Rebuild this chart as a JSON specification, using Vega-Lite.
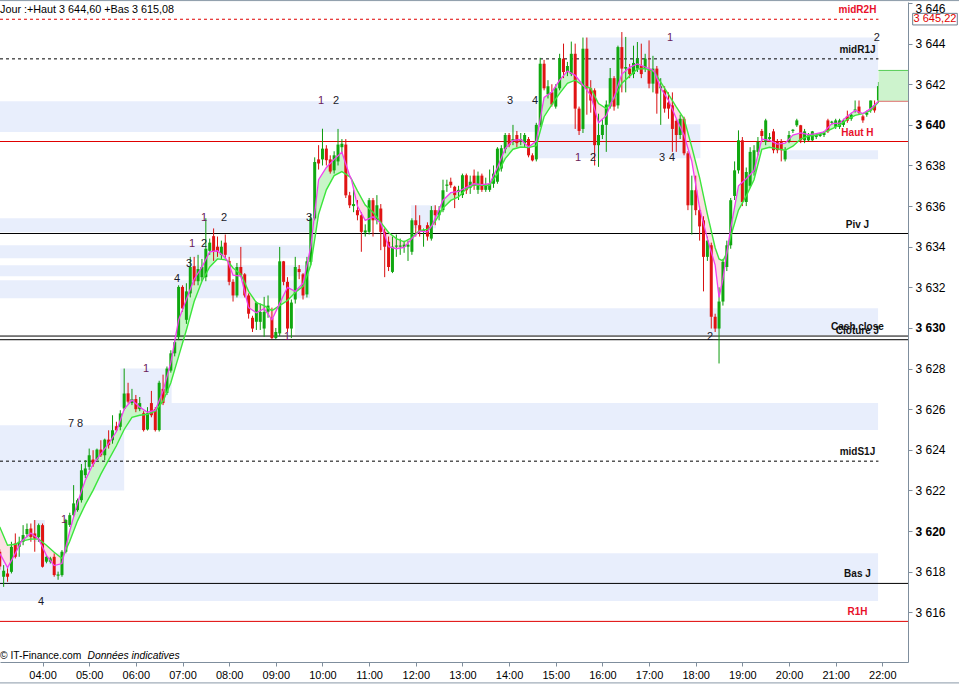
{
"$schema":"https://vega.github.io/schema/vega-lite/v6.json",
"width":908,"height":660,
"autosize":{"type":"none"},
"padding":{"left":0,"top":2,"right":51,"bottom":22},
"background":"white",
"config":{"view":{"stroke":null},"font":"Liberation Sans","scale":{"continuousPadding":0}},
"datasets":{
"one":[{"k":1}],
"bands":[
{"start":937.6,"end":1314.5,"lo":3641.8,"hi":3644.3},
{"start":185.3,"end":876,"lo":3639.65,"hi":3641.16},
{"start":876,"end":1086,"lo":3638.35,"hi":3640.03},
{"start":1192,"end":1314.5,"lo":3638.31,"hi":3638.75},
{"start":185.3,"end":584,"lo":3634.71,"hi":3635.4},
{"start":185.3,"end":584,"lo":3633.43,"hi":3634.07},
{"start":185.3,"end":584,"lo":3632.55,"hi":3633.09},
{"start":185.3,"end":584,"lo":3631.46,"hi":3632.35},
{"start":714,"end":746,"lo":3634.91,"hi":3636.04},
{"start":564.6,"end":1314.5,"lo":3629.64,"hi":3630.97},
{"start":340,"end":406,"lo":3626.1,"hi":3628.0},
{"start":345,"end":1314.5,"lo":3624.97,"hi":3626.3},
{"start":185.3,"end":345,"lo":3622.0,"hi":3625.21},
{"start":228,"end":243,"lo":3619.46,"hi":3620.54},
{"start":185.3,"end":1314.5,"lo":3616.55,"hi":3618.91}
],
"levels":[
{"name":"midR2H","v":3645.2,"src":"H","mid":true},
{"name":"midR1J","v":3643.25,"src":"J","mid":true},
{"name":"Haut H","v":3639.18,"src":"H","mid":false},
{"name":"Piv J","v":3634.65,"src":"J","mid":false},
{"name":"Cash close","v":3629.6,"src":"J","mid":false},
{"name":"Clôture J","v":3629.42,"src":"J","mid":false},
{"name":"midS1J","v":3623.44,"src":"J","mid":true},
{"name":"Bas J","v":3617.42,"src":"J","mid":false},
{"name":"R1H","v":3615.55,"src":"H","mid":false}
],
"nums":[
{"t":238.1,"p":3616.5,"n":"4"},{"t":267.6,"p":3620.54,"n":"1"},{"t":276.6,"p":3625.26,"n":"7"},{"t":288.2,"p":3625.26,"n":"8"},
{"t":373.1,"p":3627.97,"n":"1"},{"t":413.0,"p":3632.4,"n":"4"},{"t":428.4,"p":3633.14,"n":"3"},{"t":432.2,"p":3634.12,"n":"1"},
{"t":447.7,"p":3634.12,"n":"2"},{"t":447.7,"p":3635.4,"n":"1"},{"t":473.4,"p":3635.4,"n":"2"},{"t":582.7,"p":3635.4,"n":"3"},
{"t":598.1,"p":3641.16,"n":"1"},{"t":617.4,"p":3641.16,"n":"2"},{"t":554.4,"p":3629.54,"n":"1"},{"t":841.1,"p":3641.16,"n":"3"},
{"t":873.3,"p":3641.16,"n":"4"},{"t":928.6,"p":3638.35,"n":"1"},{"t":947.9,"p":3638.35,"n":"2"},{"t":1036.6,"p":3638.35,"n":"3"},
{"t":1049.5,"p":3638.35,"n":"4"},{"t":1047,"p":3644.26,"n":"1"},{"t":1098.3,"p":3629.54,"n":"2"},{"t":1313,"p":3644.26,"n":"2"}
],
"ma":[
{"t":185,"p":3618.9,"g":3620.2,"s":1,"d":"dn"},{"t":195,"p":3618.2,"g":3619.3,"s":1,"d":"dn"},{"t":205,"p":3618.9,"g":3619.35,"s":1,"d":"dn"},{"t":213,"p":3619.5,"g":3619.5,"s":1,"d":"dn"},
{"t":213,"p":3619.5,"g":3619.5,"s":2,"d":"up"},{"t":225,"p":3619.9,"g":3619.6,"s":2,"d":"up"},{"t":235,"p":3619.6,"g":3619.6,"s":2,"d":"up"},
{"t":235,"p":3619.6,"g":3619.6,"s":3,"d":"dn"},{"t":245,"p":3618.8,"g":3619.3,"s":3,"d":"dn"},{"t":255,"p":3618.3,"g":3618.95,"s":3,"d":"dn"},{"t":265,"p":3618.4,"g":3618.65,"s":3,"d":"dn"},{"t":268,"p":3618.9,"g":3618.9,"s":3,"d":"dn"},
{"t":268,"p":3618.9,"g":3618.9,"s":4,"d":"up"},{"t":275,"p":3620.0,"g":3619.5,"s":4,"d":"up"},{"t":285,"p":3621.4,"g":3620.5,"s":4,"d":"up"},{"t":295,"p":3622.5,"g":3621.3,"s":4,"d":"up"},{"t":305,"p":3623.3,"g":3622.0,"s":4,"d":"up"},{"t":315,"p":3623.8,"g":3622.8,"s":4,"d":"up"},{"t":325,"p":3624.3,"g":3623.5,"s":4,"d":"up"},{"t":335,"p":3624.9,"g":3624.2,"s":4,"d":"up"},{"t":345,"p":3626.0,"g":3625.0,"s":4,"d":"up"},{"t":355,"p":3626.45,"g":3625.6,"s":4,"d":"up"},{"t":365,"p":3626.1,"g":3625.7,"s":4,"d":"up"},{"t":375,"p":3625.85,"g":3625.75,"s":4,"d":"up"},{"t":385,"p":3625.95,"g":3625.9,"s":4,"d":"up"},{"t":395,"p":3626.9,"g":3626.4,"s":4,"d":"up"},{"t":405,"p":3628.3,"g":3627.3,"s":4,"d":"up"},{"t":415,"p":3630.4,"g":3628.6,"s":4,"d":"up"},{"t":425,"p":3631.4,"g":3629.9,"s":4,"d":"up"},{"t":435,"p":3632.4,"g":3631.3,"s":4,"d":"up"},{"t":445,"p":3633.0,"g":3632.3,"s":4,"d":"up"},{"t":455,"p":3633.75,"g":3633.0,"s":4,"d":"up"},{"t":465,"p":3633.8,"g":3633.4,"s":4,"d":"up"},{"t":475,"p":3633.45,"g":3633.35,"s":4,"d":"up"},{"t":478,"p":3633.3,"g":3633.3,"s":4,"d":"up"},
{"t":478,"p":3633.3,"g":3633.3,"s":5,"d":"dn"},{"t":485,"p":3632.6,"g":3632.95,"s":5,"d":"dn"},{"t":495,"p":3632.55,"g":3632.65,"s":5,"d":"dn"},{"t":505,"p":3631.0,"g":3631.8,"s":5,"d":"dn"},{"t":515,"p":3630.75,"g":3631.25,"s":5,"d":"dn"},{"t":525,"p":3630.95,"g":3631.1,"s":5,"d":"dn"},{"t":535,"p":3630.4,"g":3630.85,"s":5,"d":"dn"},{"t":543,"p":3631.05,"g":3631.05,"s":5,"d":"dn"},
{"t":543,"p":3631.05,"g":3631.05,"s":6,"d":"up"},{"t":555,"p":3632.0,"g":3631.35,"s":6,"d":"up"},{"t":565,"p":3631.8,"g":3631.75,"s":6,"d":"up"},{"t":575,"p":3632.2,"g":3632.05,"s":6,"d":"up"},{"t":585,"p":3634.0,"g":3633.1,"s":6,"d":"up"},{"t":595,"p":3637.3,"g":3635.6,"s":6,"d":"up"},{"t":605,"p":3637.9,"g":3636.8,"s":6,"d":"up"},{"t":615,"p":3638.3,"g":3637.5,"s":6,"d":"up"},{"t":625,"p":3638.65,"g":3637.7,"s":6,"d":"up"},{"t":635,"p":3637.5,"g":3637.45,"s":6,"d":"up"},{"t":637,"p":3637.35,"g":3637.35,"s":6,"d":"up"},
{"t":637,"p":3637.35,"g":3637.35,"s":7,"d":"dn"},{"t":645,"p":3636.0,"g":3636.75,"s":7,"d":"dn"},{"t":655,"p":3635.3,"g":3636.05,"s":7,"d":"dn"},{"t":665,"p":3635.47,"g":3635.7,"s":7,"d":"dn"},{"t":675,"p":3635.15,"g":3635.2,"s":7,"d":"dn"},{"t":685,"p":3634.0,"g":3634.7,"s":7,"d":"dn"},{"t":695,"p":3633.9,"g":3634.4,"s":7,"d":"dn"},{"t":705,"p":3633.97,"g":3634.24,"s":7,"d":"dn"},{"t":715,"p":3634.4,"g":3634.45,"s":7,"d":"dn"},{"t":725,"p":3634.77,"g":3634.8,"s":7,"d":"dn"},{"t":735,"p":3634.73,"g":3634.85,"s":7,"d":"dn"},{"t":741,"p":3635.05,"g":3635.05,"s":7,"d":"dn"},
{"t":741,"p":3635.05,"g":3635.05,"s":8,"d":"up"},{"t":745,"p":3635.4,"g":3635.25,"s":8,"d":"up"},{"t":755,"p":3636.29,"g":3635.9,"s":8,"d":"up"},{"t":765,"p":3636.66,"g":3636.28,"s":8,"d":"up"},{"t":775,"p":3636.72,"g":3636.45,"s":8,"d":"up"},{"t":785,"p":3636.92,"g":3636.85,"s":8,"d":"up"},{"t":795,"p":3637.1,"g":3637.05,"s":8,"d":"up"},{"t":805,"p":3637.06,"g":3637.03,"s":8,"d":"up"},{"t":815,"p":3637.1,"g":3637.03,"s":8,"d":"up"},{"t":825,"p":3637.9,"g":3637.6,"s":8,"d":"up"},{"t":835,"p":3638.83,"g":3638.34,"s":8,"d":"up"},{"t":845,"p":3639.24,"g":3638.8,"s":8,"d":"up"},{"t":855,"p":3639.28,"g":3638.91,"s":8,"d":"up"},{"t":865,"p":3638.91,"g":3638.88,"s":8,"d":"up"},{"t":875,"p":3639.2,"g":3638.98,"s":8,"d":"up"},{"t":885,"p":3641.35,"g":3640.4,"s":8,"d":"up"},{"t":895,"p":3641.62,"g":3641.0,"s":8,"d":"up"},{"t":905,"p":3642.2,"g":3641.55,"s":8,"d":"up"},{"t":915,"p":3642.65,"g":3642.05,"s":8,"d":"up"},{"t":925,"p":3642.44,"g":3642.2,"s":8,"d":"up"},{"t":935,"p":3641.95,"g":3641.93,"s":8,"d":"up"},{"t":936,"p":3641.92,"g":3641.92,"s":8,"d":"up"},
{"t":936,"p":3641.92,"g":3641.92,"s":9,"d":"dn"},{"t":945,"p":3641.45,"g":3641.8,"s":9,"d":"dn"},{"t":955,"p":3640.1,"g":3641.05,"s":9,"d":"dn"},{"t":965,"p":3640.45,"g":3640.8,"s":9,"d":"dn"},{"t":972,"p":3641.15,"g":3641.15,"s":9,"d":"dn"},
{"t":972,"p":3641.15,"g":3641.15,"s":10,"d":"up"},{"t":975,"p":3641.35,"g":3641.3,"s":10,"d":"up"},{"t":985,"p":3642.5,"g":3642.05,"s":10,"d":"up"},{"t":995,"p":3642.83,"g":3642.4,"s":10,"d":"up"},{"t":1005,"p":3643.0,"g":3642.75,"s":10,"d":"up"},{"t":1015,"p":3642.85,"g":3642.77,"s":10,"d":"up"},{"t":1025,"p":3642.69,"g":3642.65,"s":10,"d":"up"},{"t":1027,"p":3642.6,"g":3642.6,"s":10,"d":"up"},
{"t":1027,"p":3642.6,"g":3642.6,"s":11,"d":"dn"},{"t":1035,"p":3641.8,"g":3642.1,"s":11,"d":"dn"},{"t":1045,"p":3641.21,"g":3641.5,"s":11,"d":"dn"},{"t":1055,"p":3640.31,"g":3640.88,"s":11,"d":"dn"},{"t":1065,"p":3639.5,"g":3640.3,"s":11,"d":"dn"},{"t":1075,"p":3638.2,"g":3638.9,"s":11,"d":"dn"},{"t":1085,"p":3635.9,"g":3637.4,"s":11,"d":"dn"},{"t":1095,"p":3634.4,"g":3635.6,"s":11,"d":"dn"},{"t":1105,"p":3633.09,"g":3633.95,"s":11,"d":"dn"},{"t":1110,"p":3631.5,"g":3633.4,"s":11,"d":"dn"},{"t":1115,"p":3632.4,"g":3633.3,"s":11,"d":"dn"},{"t":1120,"p":3633.7,"g":3633.7,"s":11,"d":"dn"},
{"t":1120,"p":3633.7,"g":3633.7,"s":12,"d":"up"},{"t":1125,"p":3634.9,"g":3634.5,"s":12,"d":"up"},{"t":1135,"p":3637.0,"g":3635.8,"s":12,"d":"up"},{"t":1145,"p":3637.35,"g":3636.5,"s":12,"d":"up"},{"t":1155,"p":3637.75,"g":3637.3,"s":12,"d":"up"},{"t":1165,"p":3639.3,"g":3638.8,"s":12,"d":"up"},{"t":1175,"p":3639.24,"g":3638.9,"s":12,"d":"up"},{"t":1185,"p":3639.05,"g":3638.82,"s":12,"d":"up"},{"t":1195,"p":3639.1,"g":3638.75,"s":12,"d":"up"},{"t":1205,"p":3639.5,"g":3638.95,"s":12,"d":"up"},{"t":1215,"p":3639.6,"g":3639.3,"s":12,"d":"up"},{"t":1225,"p":3639.52,"g":3639.45,"s":12,"d":"up"},{"t":1235,"p":3639.57,"g":3639.5,"s":12,"d":"up"},{"t":1245,"p":3639.65,"g":3639.62,"s":12,"d":"up"},{"t":1255,"p":3640.06,"g":3639.8,"s":12,"d":"up"},{"t":1265,"p":3640.08,"g":3639.99,"s":12,"d":"up"},{"t":1275,"p":3640.43,"g":3640.27,"s":12,"d":"up"},{"t":1285,"p":3640.71,"g":3640.47,"s":12,"d":"up"},{"t":1295,"p":3640.56,"g":3640.55,"s":12,"d":"up"},{"t":1305,"p":3640.8,"g":3640.7,"s":12,"d":"up"},{"t":1315,"p":3641.16,"g":3641.12,"s":12,"d":"up"}
],
"candles":[
{"t":185,"o":3618.98,"h":3619.1,"l":3618.1,"c":3618.25},{"t":190,"o":3617.75,"h":3618.32,"l":3617.25,"c":3618.04},{"t":195,"o":3617.91,"h":3618.24,"l":3617.5,"c":3617.75},{"t":200,"o":3617.99,"h":3619.47,"l":3617.91,"c":3619.22},{"t":205,"o":3619.39,"h":3619.88,"l":3618.65,"c":3618.73},{"t":210,"o":3619.22,"h":3619.72,"l":3618.73,"c":3619.47},{"t":215,"o":3619.47,"h":3620.29,"l":3619.3,"c":3619.8},{"t":220,"o":3619.85,"h":3620.37,"l":3619.7,"c":3620.1},{"t":225,"o":3620.12,"h":3620.37,"l":3619.47,"c":3619.7},{"t":230,"o":3619.88,"h":3620.54,"l":3618.98,"c":3619.63},
{"t":235,"o":3619.7,"h":3620.37,"l":3619.47,"c":3620.29},{"t":240,"o":3620.29,"h":3620.37,"l":3618.2,"c":3618.24},{"t":245,"o":3618.49,"h":3618.81,"l":3618.41,"c":3618.73},{"t":250,"o":3618.49,"h":3618.73,"l":3618.4,"c":3618.65},{"t":255,"o":3618.73,"h":3618.9,"l":3617.75,"c":3617.83},{"t":260,"o":3617.8,"h":3618.0,"l":3617.6,"c":3617.86},{"t":265,"o":3617.83,"h":3619.06,"l":3617.75,"c":3618.98},{"t":270,"o":3618.98,"h":3620.6,"l":3618.9,"c":3620.54},{"t":275,"o":3620.3,"h":3620.9,"l":3620.2,"c":3620.78},{"t":280,"o":3620.78,"h":3622.26,"l":3620.7,"c":3621.36},
{"t":285,"o":3621.03,"h":3621.6,"l":3620.95,"c":3621.52},{"t":290,"o":3621.52,"h":3623.3,"l":3621.4,"c":3622.99},{"t":295,"o":3622.75,"h":3623.49,"l":3622.6,"c":3623.08},{"t":300,"o":3623.16,"h":3624.06,"l":3623.0,"c":3623.73},{"t":305,"o":3623.52,"h":3623.98,"l":3623.16,"c":3623.29},{"t":310,"o":3623.52,"h":3624.06,"l":3623.5,"c":3624.01},{"t":315,"o":3624.01,"h":3624.47,"l":3623.65,"c":3623.73},{"t":320,"o":3623.73,"h":3624.55,"l":3623.49,"c":3624.5},{"t":325,"o":3624.5,"h":3624.96,"l":3624.06,"c":3624.23},{"t":330,"o":3624.47,"h":3625.7,"l":3624.3,"c":3624.96},
{"t":335,"o":3625.16,"h":3625.38,"l":3624.88,"c":3624.96},{"t":340,"o":3625.13,"h":3625.95,"l":3624.96,"c":3625.79},{"t":345,"o":3626.03,"h":3628.0,"l":3625.95,"c":3626.77},{"t":350,"o":3626.78,"h":3627.3,"l":3626.28,"c":3626.37},{"t":355,"o":3626.3,"h":3627.0,"l":3626.2,"c":3626.5},{"t":360,"o":3626.5,"h":3626.7,"l":3625.85,"c":3626.0},{"t":365,"o":3626.0,"h":3626.6,"l":3625.9,"c":3626.3},{"t":370,"o":3625.8,"h":3625.9,"l":3624.9,"c":3624.97},{"t":375,"o":3625.0,"h":3626.1,"l":3624.95,"c":3625.8},{"t":380,"o":3626.3,"h":3626.9,"l":3625.6,"c":3625.7},
{"t":385,"o":3626.0,"h":3626.1,"l":3624.9,"c":3624.97},{"t":390,"o":3624.97,"h":3627.4,"l":3624.9,"c":3627.3},{"t":395,"o":3627.0,"h":3627.7,"l":3626.2,"c":3626.3},{"t":400,"o":3626.8,"h":3628.1,"l":3626.7,"c":3628.0},{"t":405,"o":3627.9,"h":3628.9,"l":3627.8,"c":3628.75},{"t":410,"o":3628.75,"h":3629.4,"l":3628.6,"c":3629.3},{"t":415,"o":3629.55,"h":3632.1,"l":3629.4,"c":3632.02},{"t":420,"o":3632.02,"h":3632.1,"l":3630.8,"c":3630.96},{"t":425,"o":3630.4,"h":3632.2,"l":3630.2,"c":3631.8},{"t":430,"o":3631.7,"h":3633.5,"l":3631.5,"c":3633.0},
{"t":435,"o":3633.04,"h":3633.5,"l":3632.1,"c":3632.3},{"t":440,"o":3632.3,"h":3633.6,"l":3632.1,"c":3632.9},{"t":445,"o":3632.5,"h":3633.4,"l":3632.3,"c":3633.0},{"t":450,"o":3632.5,"h":3635.4,"l":3632.3,"c":3633.9},{"t":455,"o":3633.8,"h":3634.4,"l":3633.6,"c":3634.2},{"t":460,"o":3634.52,"h":3634.9,"l":3633.3,"c":3633.75},{"t":465,"o":3634.0,"h":3634.5,"l":3633.5,"c":3633.75},{"t":470,"o":3633.6,"h":3634.3,"l":3633.4,"c":3634.0},{"t":475,"o":3634.2,"h":3634.6,"l":3633.4,"c":3633.6},{"t":480,"o":3633.3,"h":3633.5,"l":3632.1,"c":3632.27},
{"t":485,"o":3632.27,"h":3632.4,"l":3631.3,"c":3631.6},{"t":490,"o":3631.6,"h":3633.2,"l":3631.5,"c":3633.0},{"t":495,"o":3633.0,"h":3633.99,"l":3632.5,"c":3632.6},{"t":500,"o":3632.64,"h":3632.7,"l":3631.5,"c":3631.6},{"t":505,"o":3631.6,"h":3631.7,"l":3630.46,"c":3630.7},{"t":510,"o":3630.5,"h":3630.6,"l":3629.8,"c":3629.97},{"t":515,"o":3630.3,"h":3631.3,"l":3629.9,"c":3631.25},{"t":520,"o":3630.3,"h":3631.2,"l":3629.9,"c":3630.79},{"t":525,"o":3629.97,"h":3631.53,"l":3629.56,"c":3630.79},{"t":530,"o":3630.8,"h":3631.6,"l":3630.5,"c":3631.1},
{"t":535,"o":3630.5,"h":3631.0,"l":3629.45,"c":3629.5},{"t":540,"o":3629.5,"h":3630.0,"l":3629.45,"c":3629.8},{"t":545,"o":3629.73,"h":3633.99,"l":3629.6,"c":3633.28},{"t":550,"o":3633.28,"h":3633.3,"l":3632.1,"c":3632.27},{"t":555,"o":3632.27,"h":3632.5,"l":3629.8,"c":3629.97},{"t":560,"o":3629.97,"h":3631.4,"l":3629.5,"c":3631.25},{"t":565,"o":3631.4,"h":3633.5,"l":3631.2,"c":3633.0},{"t":570,"o":3632.9,"h":3633.1,"l":3632.4,"c":3632.75},{"t":575,"o":3632.64,"h":3632.7,"l":3631.4,"c":3631.6},{"t":580,"o":3631.65,"h":3633.5,"l":3631.5,"c":3633.28},
{"t":585,"o":3633.25,"h":3635.6,"l":3633.1,"c":3635.39},{"t":590,"o":3635.39,"h":3638.4,"l":3635.3,"c":3638.17},{"t":595,"o":3638.3,"h":3639.0,"l":3637.8,"c":3638.1},{"t":600,"o":3638.3,"h":3639.81,"l":3638.0,"c":3638.83},{"t":605,"o":3638.83,"h":3639.0,"l":3638.0,"c":3638.26},{"t":610,"o":3638.3,"h":3638.5,"l":3637.6,"c":3637.7},{"t":615,"o":3637.76,"h":3638.7,"l":3637.6,"c":3638.5},{"t":620,"o":3638.2,"h":3639.8,"l":3638.0,"c":3639.03},{"t":625,"o":3638.9,"h":3639.3,"l":3638.6,"c":3639.07},{"t":630,"o":3639.03,"h":3639.3,"l":3636.4,"c":3636.53},
{"t":635,"o":3636.53,"h":3636.7,"l":3635.9,"c":3636.04},{"t":640,"o":3636.0,"h":3636.8,"l":3635.7,"c":3636.1},{"t":645,"o":3635.8,"h":3636.3,"l":3635.3,"c":3635.55},{"t":650,"o":3635.55,"h":3635.7,"l":3633.75,"c":3634.73},{"t":655,"o":3634.7,"h":3635.1,"l":3634.5,"c":3634.8},{"t":660,"o":3634.73,"h":3636.4,"l":3634.6,"c":3636.29},{"t":665,"o":3636.29,"h":3636.4,"l":3634.5,"c":3635.3},{"t":670,"o":3635.3,"h":3636.54,"l":3635.1,"c":3636.04},{"t":675,"o":3635.88,"h":3636.1,"l":3633.83,"c":3634.73},{"t":680,"o":3634.73,"h":3634.9,"l":3632.5,"c":3634.0},
{"t":685,"o":3634.24,"h":3634.5,"l":3632.8,"c":3633.0},{"t":690,"o":3632.76,"h":3634.5,"l":3632.7,"c":3634.0},{"t":695,"o":3634.0,"h":3634.6,"l":3633.5,"c":3634.06},{"t":700,"o":3634.0,"h":3634.4,"l":3633.6,"c":3634.06},{"t":705,"o":3634.0,"h":3634.3,"l":3633.7,"c":3634.1},{"t":710,"o":3634.0,"h":3634.3,"l":3633.3,"c":3634.1},{"t":715,"o":3633.75,"h":3635.4,"l":3633.6,"c":3635.3},{"t":720,"o":3635.3,"h":3636.04,"l":3634.5,"c":3635.06},{"t":725,"o":3635.06,"h":3635.55,"l":3634.5,"c":3634.73},{"t":730,"o":3634.75,"h":3634.9,"l":3634.0,"c":3634.82},
{"t":735,"o":3635.06,"h":3635.2,"l":3634.3,"c":3634.5},{"t":740,"o":3634.4,"h":3636.0,"l":3634.3,"c":3635.8},{"t":745,"o":3635.8,"h":3636.04,"l":3635.06,"c":3635.55},{"t":750,"o":3635.55,"h":3636.0,"l":3635.3,"c":3635.8},{"t":755,"o":3635.8,"h":3637.3,"l":3635.7,"c":3636.78},{"t":760,"o":3637.0,"h":3637.3,"l":3636.7,"c":3637.06},{"t":765,"o":3637.2,"h":3637.4,"l":3636.9,"c":3637.03},{"t":770,"o":3636.95,"h":3637.0,"l":3635.9,"c":3636.54},{"t":775,"o":3636.7,"h":3637.0,"l":3636.3,"c":3636.8},{"t":780,"o":3636.54,"h":3637.6,"l":3636.4,"c":3637.52},
{"t":785,"o":3637.52,"h":3637.6,"l":3636.6,"c":3636.78},{"t":790,"o":3636.9,"h":3637.5,"l":3636.6,"c":3637.2},{"t":795,"o":3637.5,"h":3637.8,"l":3636.8,"c":3637.0},{"t":800,"o":3636.8,"h":3637.7,"l":3636.6,"c":3637.5},{"t":805,"o":3637.5,"h":3637.6,"l":3636.7,"c":3636.8},{"t":810,"o":3636.8,"h":3637.4,"l":3636.7,"c":3637.0},{"t":815,"o":3636.8,"h":3637.8,"l":3636.7,"c":3637.1},{"t":820,"o":3637.1,"h":3638.0,"l":3636.9,"c":3637.6},{"t":825,"o":3637.2,"h":3638.9,"l":3637.1,"c":3638.83},{"t":830,"o":3637.85,"h":3639.0,"l":3637.7,"c":3638.85},
{"t":835,"o":3638.8,"h":3639.6,"l":3638.6,"c":3639.5},{"t":840,"o":3639.5,"h":3639.6,"l":3638.9,"c":3639.0},{"t":845,"o":3639.2,"h":3640.0,"l":3639.0,"c":3639.3},{"t":850,"o":3639.5,"h":3639.7,"l":3638.9,"c":3639.1},{"t":855,"o":3639.2,"h":3639.6,"l":3639.0,"c":3639.3},{"t":860,"o":3639.1,"h":3639.6,"l":3638.9,"c":3639.5},{"t":865,"o":3639.3,"h":3639.4,"l":3638.4,"c":3638.5},{"t":870,"o":3638.5,"h":3638.6,"l":3638.2,"c":3638.25},{"t":875,"o":3638.3,"h":3640.1,"l":3638.2,"c":3640.0},{"t":880,"o":3640.0,"h":3643.3,"l":3639.9,"c":3643.01},
{"t":885,"o":3643.01,"h":3643.2,"l":3641.7,"c":3641.8},{"t":890,"o":3641.5,"h":3642.2,"l":3641.3,"c":3641.9},{"t":895,"o":3641.6,"h":3642.0,"l":3640.9,"c":3641.0},{"t":900,"o":3640.9,"h":3642.0,"l":3640.8,"c":3641.8},{"t":905,"o":3641.8,"h":3643.5,"l":3641.7,"c":3643.26},{"t":910,"o":3643.26,"h":3644.0,"l":3642.3,"c":3642.6},{"t":915,"o":3642.6,"h":3643.1,"l":3642.4,"c":3642.9},{"t":920,"o":3642.5,"h":3644.1,"l":3642.4,"c":3643.5},{"t":925,"o":3643.5,"h":3644.0,"l":3639.8,"c":3640.8},{"t":930,"o":3640.8,"h":3640.9,"l":3639.5,"c":3639.7},
{"t":935,"o":3639.8,"h":3644.3,"l":3639.6,"c":3643.75},{"t":940,"o":3643.75,"h":3644.3,"l":3640.5,"c":3641.8},{"t":945,"o":3641.8,"h":3642.2,"l":3640.6,"c":3641.2},{"t":950,"o":3641.7,"h":3641.8,"l":3638.0,"c":3639.0},{"t":955,"o":3639.0,"h":3640.55,"l":3637.93,"c":3639.5},{"t":960,"o":3639.5,"h":3640.3,"l":3639.3,"c":3640.0},{"t":965,"o":3640.0,"h":3641.2,"l":3638.67,"c":3641.0},{"t":970,"o":3640.9,"h":3642.8,"l":3640.8,"c":3642.3},{"t":975,"o":3642.3,"h":3642.4,"l":3640.7,"c":3640.9},{"t":980,"o":3640.96,"h":3643.9,"l":3640.8,"c":3643.83},
{"t":985,"o":3643.83,"h":3644.57,"l":3641.6,"c":3642.77},{"t":990,"o":3642.77,"h":3644.33,"l":3641.6,"c":3642.85},{"t":995,"o":3642.77,"h":3643.0,"l":3642.3,"c":3642.5},{"t":1000,"o":3642.5,"h":3643.9,"l":3642.3,"c":3643.05},{"t":1005,"o":3642.77,"h":3644.08,"l":3642.6,"c":3643.26},{"t":1010,"o":3642.9,"h":3644.0,"l":3642.3,"c":3642.5},{"t":1015,"o":3642.77,"h":3643.5,"l":3642.6,"c":3643.26},{"t":1020,"o":3642.77,"h":3644.16,"l":3641.8,"c":3642.03},{"t":1025,"o":3642.03,"h":3643.4,"l":3641.6,"c":3642.77},{"t":1030,"o":3642.77,"h":3642.9,"l":3640.55,"c":3641.54},
{"t":1035,"o":3641.8,"h":3642.3,"l":3640.0,"c":3641.9},{"t":1040,"o":3641.7,"h":3641.9,"l":3640.6,"c":3640.8},{"t":1045,"o":3641.1,"h":3641.6,"l":3640.3,"c":3640.8},{"t":1050,"o":3640.96,"h":3641.6,"l":3638.67,"c":3639.8},{"t":1055,"o":3640.2,"h":3640.3,"l":3638.67,"c":3639.5},{"t":1060,"o":3639.5,"h":3640.5,"l":3639.3,"c":3640.3},{"t":1065,"o":3640.3,"h":3640.4,"l":3638.5,"c":3638.6},{"t":1070,"o":3638.6,"h":3638.7,"l":3635.8,"c":3636.04},{"t":1075,"o":3636.04,"h":3637.5,"l":3634.6,"c":3636.78},{"t":1080,"o":3636.78,"h":3637.5,"l":3635.55,"c":3635.8},
{"t":1085,"o":3635.8,"h":3636.0,"l":3634.3,"c":3635.0},{"t":1090,"o":3635.3,"h":3635.5,"l":3631.8,"c":3633.5},{"t":1095,"o":3633.5,"h":3634.5,"l":3633.3,"c":3634.3},{"t":1100,"o":3634.07,"h":3634.2,"l":3629.97,"c":3630.55},{"t":1105,"o":3630.55,"h":3630.7,"l":3629.8,"c":3629.97},{"t":1110,"o":3629.97,"h":3632.0,"l":3628.25,"c":3631.3},{"t":1115,"o":3631.3,"h":3633.4,"l":3631.1,"c":3633.25},{"t":1120,"o":3633.0,"h":3634.3,"l":3632.8,"c":3634.07},{"t":1125,"o":3634.07,"h":3636.4,"l":3633.9,"c":3636.29},{"t":1130,"o":3636.5,"h":3638.2,"l":3636.3,"c":3637.76},
{"t":1135,"o":3637.76,"h":3639.73,"l":3637.6,"c":3639.24},{"t":1140,"o":3639.24,"h":3639.4,"l":3636.0,"c":3636.2},{"t":1145,"o":3636.2,"h":3637.9,"l":3636.0,"c":3637.68},{"t":1150,"o":3637.0,"h":3638.9,"l":3636.9,"c":3638.67},{"t":1155,"o":3637.7,"h":3639.0,"l":3637.5,"c":3638.75},{"t":1160,"o":3638.67,"h":3639.4,"l":3638.5,"c":3639.16},{"t":1165,"o":3639.7,"h":3639.8,"l":3639.2,"c":3639.45},{"t":1170,"o":3639.16,"h":3640.3,"l":3639.0,"c":3640.22},{"t":1175,"o":3639.3,"h":3639.6,"l":3639.2,"c":3639.4},{"t":1180,"o":3639.68,"h":3639.8,"l":3638.6,"c":3638.75},
{"t":1185,"o":3639.16,"h":3639.3,"l":3638.6,"c":3638.75},{"t":1190,"o":3639.16,"h":3639.3,"l":3638.2,"c":3638.75},{"t":1195,"o":3638.3,"h":3638.9,"l":3638.2,"c":3638.75},{"t":1200,"o":3639.2,"h":3639.7,"l":3639.1,"c":3639.5},{"t":1205,"o":3639.7,"h":3639.8,"l":3639.6,"c":3639.76},{"t":1210,"o":3639.98,"h":3640.3,"l":3639.9,"c":3640.22},{"t":1215,"o":3639.98,"h":3640.0,"l":3639.1,"c":3639.24},{"t":1220,"o":3639.24,"h":3639.8,"l":3639.1,"c":3639.68},{"t":1225,"o":3639.24,"h":3639.6,"l":3639.2,"c":3639.48},{"t":1230,"o":3639.24,"h":3639.7,"l":3639.2,"c":3639.68},
{"t":1235,"o":3639.4,"h":3639.6,"l":3639.3,"c":3639.5},{"t":1240,"o":3639.45,"h":3639.6,"l":3639.4,"c":3639.55},{"t":1245,"o":3639.5,"h":3639.7,"l":3639.4,"c":3639.6},{"t":1250,"o":3640.22,"h":3640.3,"l":3639.6,"c":3639.68},{"t":1255,"o":3640.1,"h":3640.2,"l":3640.0,"c":3640.16},{"t":1260,"o":3639.9,"h":3640.3,"l":3639.8,"c":3640.22},{"t":1265,"o":3639.9,"h":3640.3,"l":3639.8,"c":3640.22},{"t":1270,"o":3640.0,"h":3640.3,"l":3639.9,"c":3640.2},{"t":1275,"o":3640.42,"h":3640.7,"l":3640.1,"c":3640.2},{"t":1280,"o":3640.3,"h":3640.6,"l":3640.2,"c":3640.5},
{"t":1285,"o":3640.7,"h":3641.2,"l":3640.6,"c":3640.76},{"t":1290,"o":3640.9,"h":3641.2,"l":3640.5,"c":3640.6},{"t":1295,"o":3640.42,"h":3640.5,"l":3640.1,"c":3640.22},{"t":1300,"o":3640.5,"h":3640.7,"l":3640.4,"c":3640.6},{"t":1305,"o":3640.71,"h":3641.2,"l":3640.6,"c":3641.2},{"t":1310,"o":3640.96,"h":3641.2,"l":3640.6,"c":3640.71},{"t":1315,"o":3641.2,"h":3642.11,"l":3641.1,"c":3641.91}
]
},
"layer":[
{"data":{"name":"bands"},"mark":{"type":"rect","color":"#e8eefc"},
 "encoding":{
  "x":{"field":"start","type":"quantitative","title":null,"scale":{"domain":[185.3,1353],"nice":false,"zero":false,"padding":0},
   "axis":{"values":[240,300,360,420,480,540,600,660,720,780,840,900,960,1020,1080,1140,1200,1260,1320],"labelExpr":"format(datum.value/60,'02d')+':00'","grid":false,"domainColor":"#7f8e9d","tickColor":"#7f8e9d","tickSize":4,"labelFont":"Liberation Sans","labelFontSize":11,"labelColor":"#000","labelOverlap":false,"labelFlush":false,"labelPadding":3,"title":null}},
  "x2":{"field":"end"},
  "y":{"field":"lo","type":"quantitative","title":null,"scale":{"domain":[3613.55,3646.05],"nice":false,"zero":false,"padding":0},
   "axis":{"orient":"right","values":[3616,3618,3620,3622,3624,3626,3628,3630,3632,3634,3636,3638,3640,3642,3644,3646],"labelExpr":"replace(format(datum.value,',d'),',',' ')","labelFontWeight":{"condition":{"test":"datum.value % 10 === 0","value":"bold"},"value":"normal"},"grid":false,"domainColor":"#7f8e9d","tickColor":"#7f8e9d","tickSize":4,"labelFont":"Liberation Sans","labelFontSize":12,"labelColor":"#000","labelFlush":5,"labelOverlap":false,"labelPadding":3,"title":null}},
  "y2":{"field":"hi"}}},
{"data":{"name":"ma"},"mark":{"type":"area","opacity":1},
 "encoding":{"x":{"field":"t","type":"quantitative","title":null},"y":{"field":"p","type":"quantitative","stack":null,"title":null},"y2":{"field":"g"},"detail":{"field":"s","type":"nominal"},
  "color":{"field":"d","type":"nominal","scale":{"domain":["up","dn"],"range":["#c9f5c9","#fcdfe3"]},"legend":null}}},
{"data":{"name":"levels"},"transform":[{"filter":"datum.mid"}],"mark":{"type":"rule","strokeDash":[3,3],"strokeWidth":1},
 "encoding":{"x":{"datum":185.3,"type":"quantitative"},"x2":{"datum":1315},"y":{"field":"v","type":"quantitative","title":null},
  "color":{"condition":{"test":"datum.src==='H'","value":"#e00000"},"value":"#000000"}}},
{"data":{"name":"levels"},"transform":[{"filter":"!datum.mid"}],"mark":{"type":"rule","strokeWidth":1},
 "encoding":{"x":{"datum":185.3,"type":"quantitative"},"x2":{"datum":1353},"y":{"field":"v","type":"quantitative","title":null},
  "color":{"condition":{"test":"datum.src==='H'","value":"#e00000"},"value":"#000000"}}},
{"data":{"name":"candles"},"mark":{"type":"rule","strokeWidth":1},
 "encoding":{"x":{"field":"t","type":"quantitative","title":null},"y":{"field":"l","type":"quantitative","title":null},"y2":{"field":"h"},
  "color":{"condition":{"test":"datum.c>=datum.o","value":"#0c9a0c"},"value":"#d81010"}}},
{"data":{"name":"candles"},"mark":{"type":"bar","size":3},
 "encoding":{"x":{"field":"t","type":"quantitative","title":null},"y":{"field":"o","type":"quantitative","title":null},"y2":{"field":"c"},
  "color":{"condition":{"test":"datum.c>=datum.o","value":"#10a810"},"value":"#e01414"}}},
{"data":{"name":"ma"},"mark":{"type":"line","color":"#3ce63c","strokeWidth":1.4},
 "encoding":{"x":{"field":"t","type":"quantitative","title":null},"y":{"field":"g","type":"quantitative","title":null}}},
{"data":{"name":"ma"},"mark":{"type":"line","color":"#f040f0","strokeWidth":1.3},
 "encoding":{"x":{"field":"t","type":"quantitative","title":null},"y":{"field":"p","type":"quantitative","title":null}}},
{"data":{"name":"one"},"mark":{"type":"rect","color":"#cdf3cd"},
 "encoding":{"x":{"datum":1315,"type":"quantitative"},"x2":{"datum":1353},"y":{"datum":3641.16,"type":"quantitative"},"y2":{"datum":3642.68}}},
{"data":{"name":"one"},"mark":{"type":"rule","color":"#55cc55","strokeWidth":1},
 "encoding":{"x":{"datum":1315,"type":"quantitative"},"x2":{"datum":1353},"y":{"datum":3642.68,"type":"quantitative"}}},
{"data":{"name":"one"},"mark":{"type":"rule","color":"#e07070","strokeWidth":1},
 "encoding":{"x":{"datum":1315,"type":"quantitative"},"x2":{"datum":1353},"y":{"datum":3641.16,"type":"quantitative"}}},
{"data":{"name":"levels"},"mark":{"type":"text","font":"Liberation Sans","fontSize":10,"fontWeight":"bold","align":"center","baseline":"alphabetic","dy":-6},
 "encoding":{"x":{"datum":1288,"type":"quantitative"},"y":{"field":"v","type":"quantitative","title":null},"text":{"field":"name"},
  "color":{"condition":{"test":"datum.src==='H'","value":"#e8102a"},"value":"#111111"}}},
{"data":{"name":"nums"},"mark":{"type":"text","font":"Liberation Sans","fontSize":11,"align":"center","baseline":"middle"},
 "encoding":{"x":{"field":"t","type":"quantitative","title":null},"y":{"field":"p","type":"quantitative","title":null},"text":{"field":"n"},
  "color":{"condition":{"test":"datum.n==='1'","value":"#6a1a5a"},"value":"#1a1a2a"}}},
{"data":{"name":"one"},"mark":{"type":"text","font":"Liberation Sans","fontSize":10.8,"align":"left","baseline":"alphabetic","color":"#000"},
 "encoding":{"x":{"datum":185.3,"type":"quantitative"},"y":{"datum":3645.52,"type":"quantitative"},"text":{"value":"Jour :+Haut 3 644,60 +Bas 3 615,08"}}},
{"data":{"name":"one"},"mark":{"type":"text","font":"Liberation Sans","fontSize":10.3,"align":"left","baseline":"alphabetic","color":"#000"},
 "encoding":{"x":{"datum":185.3,"type":"quantitative"},"y":{"datum":3613.7,"type":"quantitative"},"text":{"value":"© IT-Finance.com"}}},
{"data":{"name":"one"},"mark":{"type":"text","font":"Liberation Sans","fontSize":10.3,"fontStyle":"italic","align":"left","baseline":"alphabetic","color":"#000"},
 "encoding":{"x":{"datum":297.8,"type":"quantitative"},"y":{"datum":3613.7,"type":"quantitative"},"text":{"value":"Données indicatives"}}},
{"data":{"name":"one"},"mark":{"type":"rect","fill":"#ffffff","stroke":"#6f7f8f","strokeWidth":1,"opacity":1},
 "encoding":{"x":{"datum":1359,"type":"quantitative"},"x2":{"datum":1416.4},"y":{"datum":3644.92,"type":"quantitative"},"y2":{"datum":3645.49}}},
{"data":{"name":"one"},"mark":{"type":"text","font":"Liberation Sans","fontSize":11,"align":"center","baseline":"middle","color":"#e00000"},
 "encoding":{"x":{"datum":1387.7,"type":"quantitative"},"y":{"datum":3645.2,"type":"quantitative"},"text":{"value":"3 645,22"}}},
{"data":{"name":"one"},"mark":{"type":"rule","color":"#8a99a8","strokeWidth":1},
 "encoding":{"x":{"datum":185.3,"type":"quantitative"},"x2":{"datum":1418.6},"y":{"datum":3646.12,"type":"quantitative"}}},
{"data":{"name":"one"},"mark":{"type":"rule","color":"#8a99a8","strokeWidth":1},
 "encoding":{"x":{"datum":185.3,"type":"quantitative"},"x2":{"datum":1418.6},"y":{"datum":3612.52,"type":"quantitative"}}}
]
}
